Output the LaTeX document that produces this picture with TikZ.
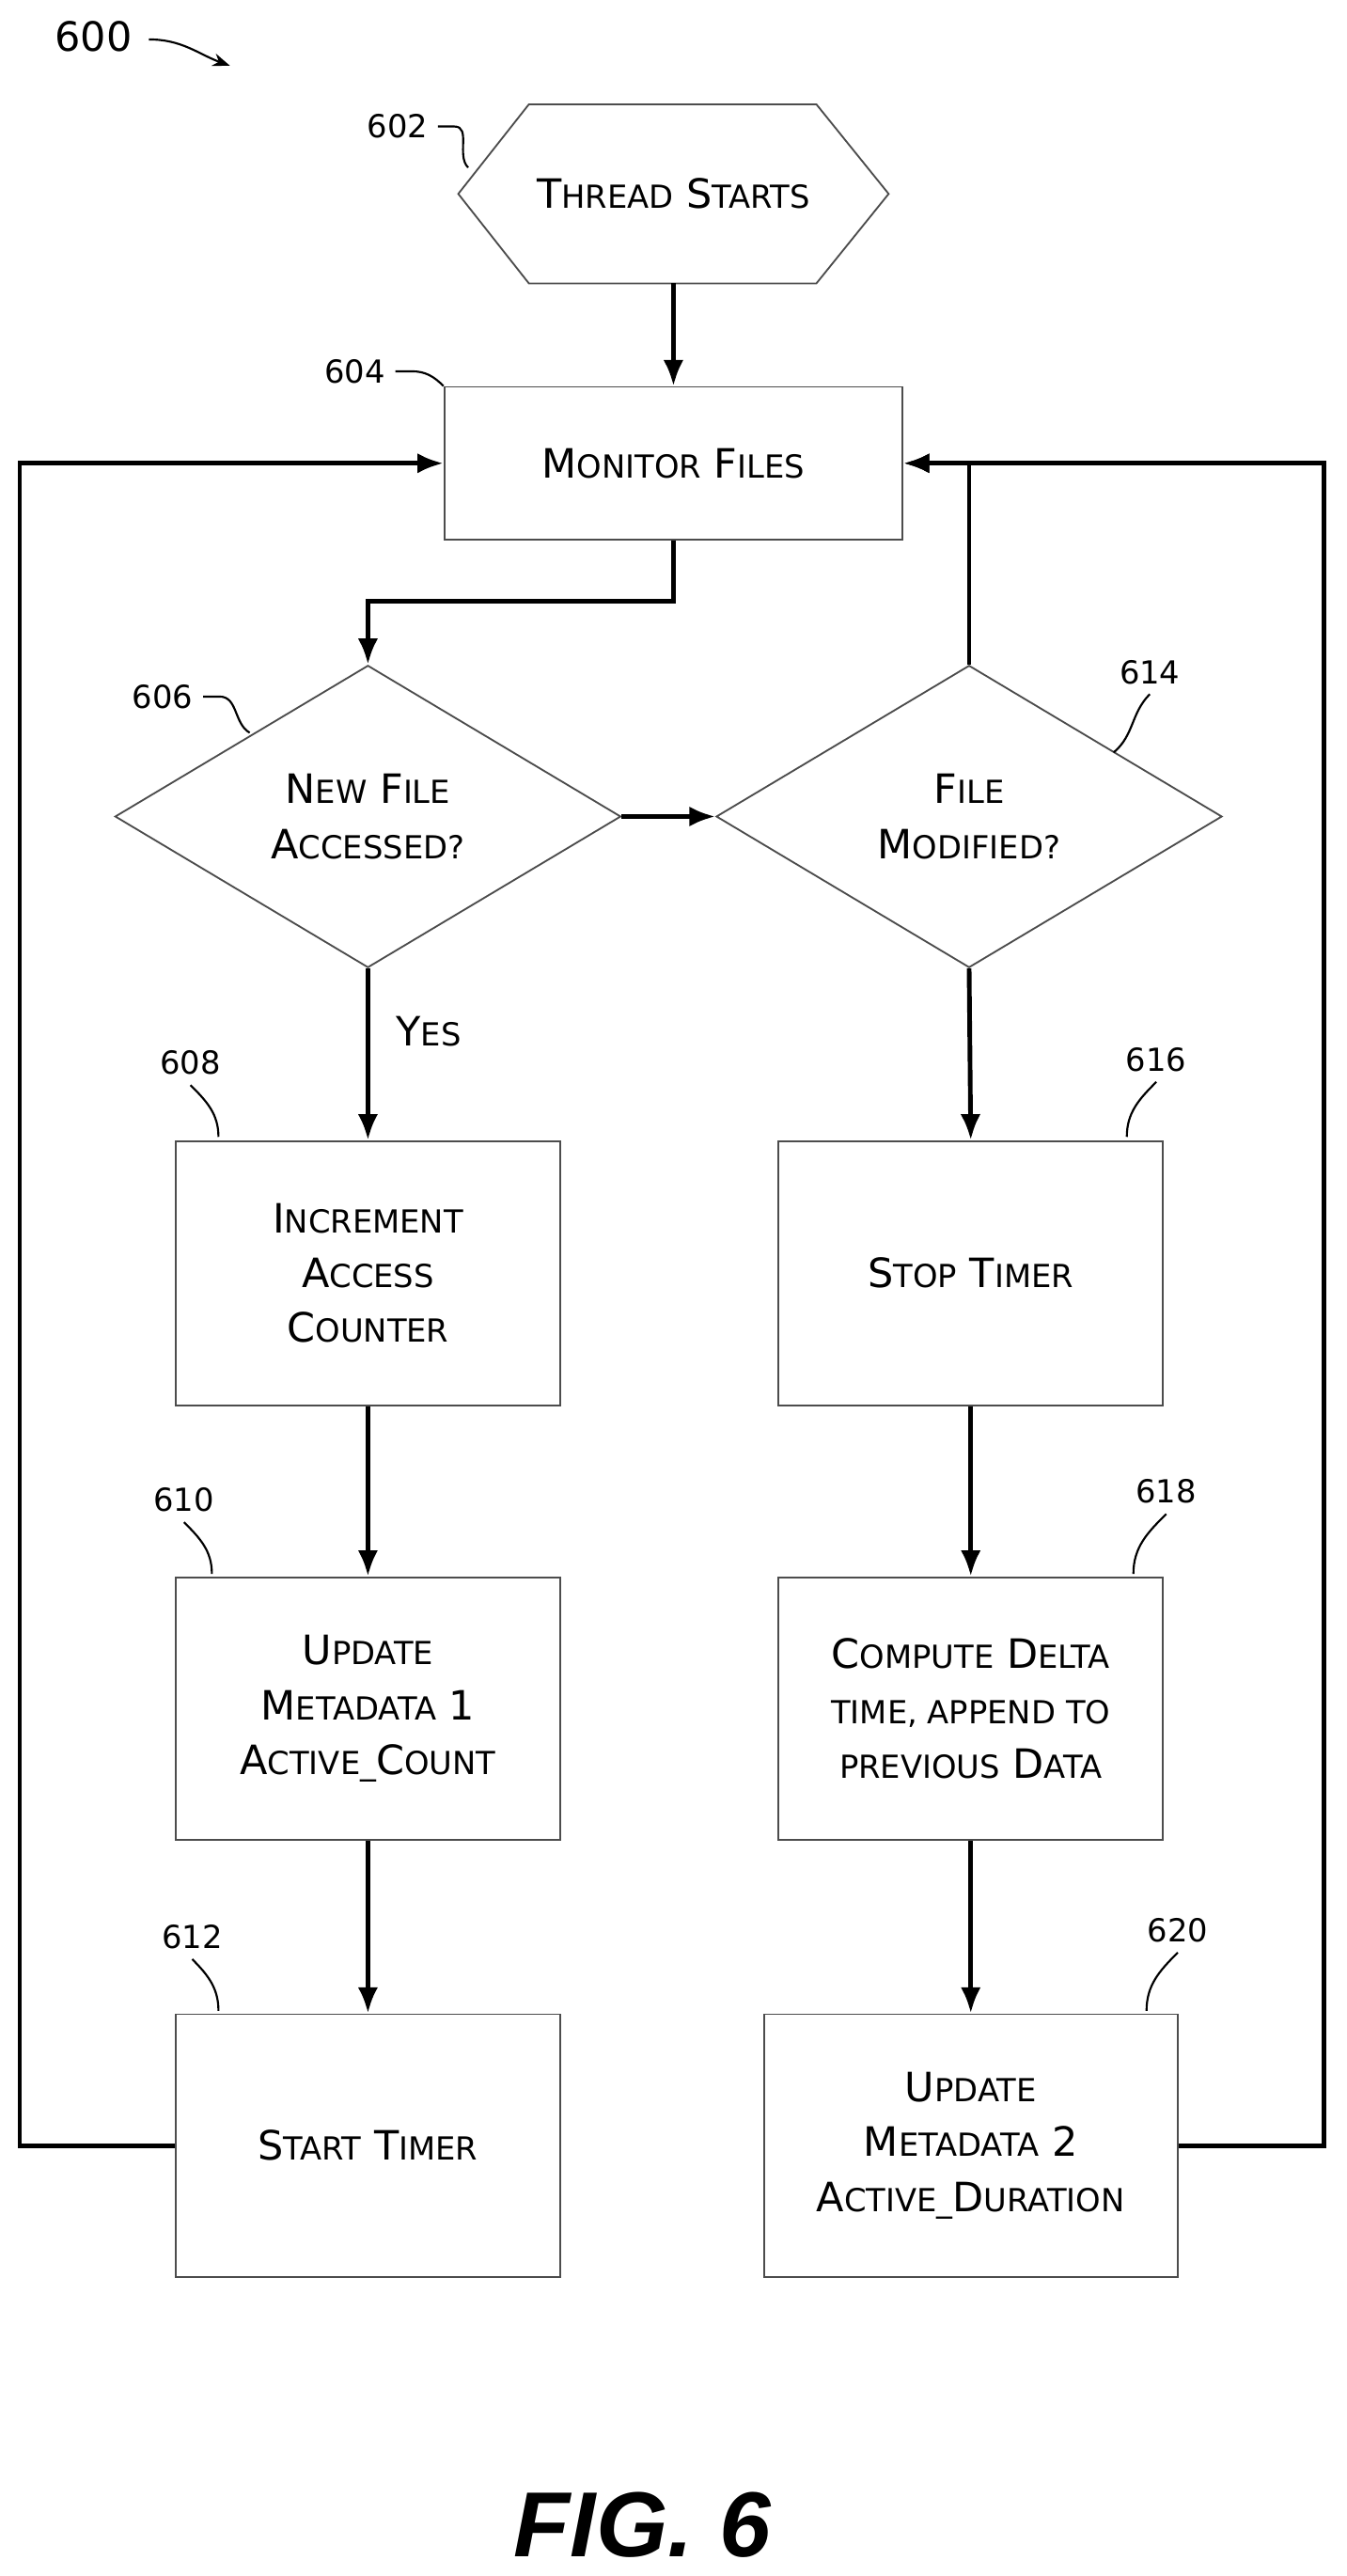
\documentclass[tikz,border=0pt]{standalone}
\usepackage{fontspec}
\setmainfont{DejaVu Sans}
\newfontfamily\figfont{Liberation Sans}
\usetikzlibrary{arrows.meta,positioning,calc,shapes.geometric}
\newcommand\sca[1]{{\fontsize{11}{19}\selectfont\MakeUppercase{#1}}}

\begin{document}
\begin{tikzpicture}[
  x=0.02cm, y=-0.02cm,
  box/.style={draw=black!70, line width=0.6pt, align=center, font=\fontsize{14}{19}\selectfont},
  dia/.style={draw=black!70, line width=0.6pt, diamond, aspect=1.674, minimum width=6.16cm, minimum height=3.68cm, inner sep=0pt, align=center, font=\fontsize{14}{19}\selectfont},
  ref/.style={font=\fontsize{11}{13}\selectfont},
  squig/.style={line width=0.7pt},
  arrow/.style={-{Latex[length=9pt,width=7pt]}, line width=1.6pt}
]
\useasboundingbox (0,0) rectangle (820,1568);

% Nodes
\node[box, draw=none, minimum width=5.22cm, minimum height=2.16cm] (start) at (410,118) {T\sca{hread} S\sca{tarts}};
\draw[black!70, line width=0.6pt] (start.west) -- ($(start.north west)+(43,0)$) -- ($(start.north east)+(-44,0)$)
  -- (start.east) -- ($(start.south east)+(-44,0)$) -- ($(start.south west)+(43,0)$) -- cycle;
\node[box, minimum width=5.58cm, minimum height=1.86cm] (monitor) at (410,282) {M\sca{onitor} F\sca{iles}};
\node[dia] (newfile) at (224,497) {N\sca{ew} F\sca{ile}\\A\sca{ccessed?}};
\node[dia] (modified) at (590,497) {F\sca{ile}\\M\sca{odified?}};
\node[box, minimum width=4.68cm, minimum height=3.22cm] (incr) at (224,775) {I\sca{ncrement}\\A\sca{ccess}\\C\sca{ounter}};
\node[box, minimum width=4.68cm, minimum height=3.2cm] (upd1) at (224,1040) {U\sca{pdate}\\M\sca{etadata} 1\\A\sca{ctive\_}C\sca{ount}};
\node[box, minimum width=4.68cm, minimum height=3.2cm] (starttimer) at (224,1306) {S\sca{tart} T\sca{imer}};
\node[box, minimum width=4.68cm, minimum height=3.22cm] (stop) at (591,775) {S\sca{top} T\sca{imer}};
\node[box, minimum width=4.68cm, minimum height=3.2cm] (delta) at (591,1040) {C\sca{ompute} D\sca{elta}\\\sca{time, append to}\\\sca{previous} D\sca{ata}};
\node[box, minimum width=5.04cm, minimum height=3.2cm] (upd2) at (591,1306) {U\sca{pdate}\\M\sca{etadata} 2\\A\sca{ctive\_}D\sca{uration}};
\node[font=\fontsize{14}{19}\selectfont, anchor=west] (yes) at (235,628) {Y\sca{es}};
\node[font=\figfont\bfseries\itshape\fontsize{32}{36}\selectfont] (fig) at (391,1537) {FIG. 6};

% Reference numerals
\node[ref] (n600) at (57,22) {\fontsize{14}{16}\selectfont 600};
\node[ref] (n602) at (242,77) {602};
\node[ref] (n604) at (216,226) {604};
\node[ref] (n606) at (99,424) {606};
\node[ref] (n608) at (116,647) {608};
\node[ref] (n610) at (112,913) {610};
\node[ref] (n612) at (117,1179) {612};
\node[ref] (n614) at (700,409) {614};
\node[ref] (n616) at (704,645) {616};
\node[ref] (n618) at (710,908) {618};
\node[ref] (n620) at (717,1175) {620};
\draw[-{Stealth[length=6pt]}, line width=0.7pt] (n600.east) ++(4,2) to[out=0,in=160] (140,40);
\draw[squig] (n602.east) to[out=0,in=180] ++(10,0) to[out=0,in=135] (285,102);
\draw[squig] (n604.east) to[out=0,in=180] ++(10,0) to[out=0,in=135] (monitor.north west);
\draw[squig] (n606.east) to[out=0,in=180] ++(10,0) to[out=0,in=150] (152,446);
\draw[squig] (n608.south) to[out=-45,in=90] (133,692);
\draw[squig] (n610.south) to[out=-45,in=90] (129,958);
\draw[squig] (n612.south) to[out=-45,in=90] (133,1224);
\draw[squig] (n614.south) to[out=-135,in=40] (678,458);
\draw[squig] (n616.south) to[out=-135,in=90] (686,692);
\draw[squig] (n618.south) to[out=-135,in=90] (690,958);
\draw[squig] (n620.south) to[out=-135,in=90] (698,1224);

% Arrows
\draw[arrow] (start) -- (monitor);
\draw[arrow] (monitor.south) |- ($(monitor.south)+(0,37)$) -| (newfile.north);
\draw[arrow] (newfile.east) -- (modified.west);
\draw[arrow] (modified.north) |- (monitor.east);
\draw[arrow] (newfile.south) -- (incr.north);
\draw[arrow] (incr) -- (upd1);
\draw[arrow] (upd1) -- (starttimer);
\draw[arrow] (modified.south) -- (stop.north);
\draw[arrow] (stop) -- (delta);
\draw[arrow] (delta) -- (upd2);
\coordinate (leftc) at (12,1306);
\coordinate (rightc) at (806,1306);
\draw[arrow] (starttimer.west) -- (leftc) |- (monitor.west);
\draw[arrow] (upd2.east) -- (rightc) |- (monitor.east);

\end{tikzpicture}
\end{document}
